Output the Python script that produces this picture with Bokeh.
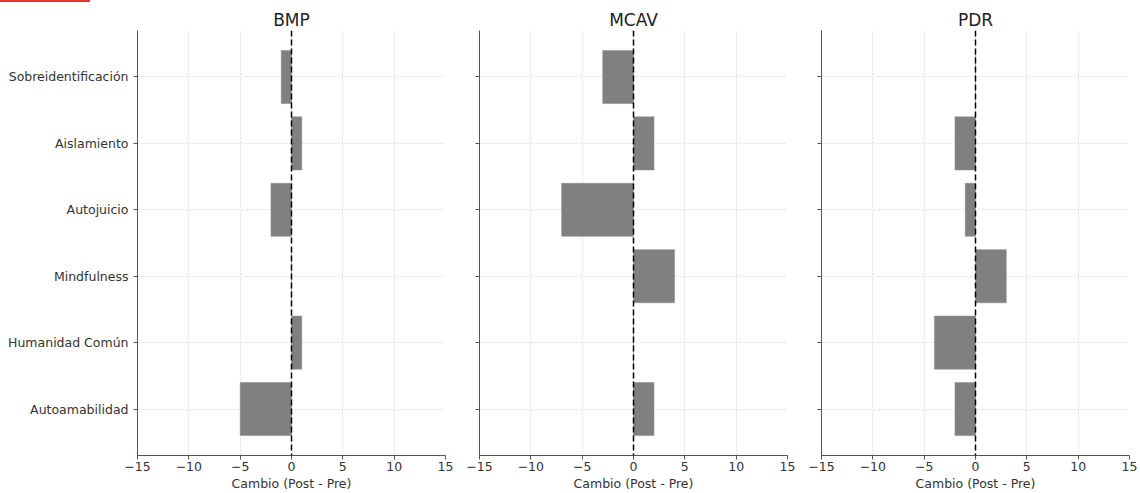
import numpy as np
from bokeh.plotting import figure
from bokeh.layouts import row, column
from bokeh.models import ColumnDataSource, Span, FixedTicker, Range1d, Div
from bokeh.embed import file_html
from bokeh.resources import INLINE

categories = ["Autoamabilidad", "Humanidad Común", "Mindfulness",
              "Autojuicio", "Aislamiento", "Sobreidentificación"]
groups = ["BMP", "MCAV", "PDR"]
bmp = [-5, 1, 0, -2, 1, -1]
mcav = [2, 0, 4, -7, 2, -3]
pdr = [-2, -4, 3, -1, -2, 0]
series = {"BMP": bmp, "MCAV": mcav, "PDR": pdr}
x_ticks = [-15, -10, -5, 0, 5, 10, 15]

FONT = "DejaVu Sans"
TXT = "#333333"
ypos = list(range(len(categories)))

figs = []
for i, g in enumerate(groups):
    left = 137 if i == 0 else 24
    w = left + 308 + 10
    p = figure(width=w, height=491, output_backend="svg", toolbar_location=None,
               x_range=Range1d(-15, 15), y_range=Range1d(-0.7, 5.7),
               min_border_left=left, min_border_right=10,
               min_border_top=28, min_border_bottom=34)
    src = ColumnDataSource(dict(y=ypos, v=series[g], z=[0] * len(ypos)))
    p.hbar(y="y", left="z", right="v", height=0.8, source=src,
           fill_color="#808080", line_color="#8a8a8a", line_width=0.5)
    p.add_layout(Span(location=0, dimension="height", line_color="black",
                      line_dash="6 3", line_width=1.5))
    p.title.text = g
    p.title.align = "center"
    p.title.text_font = FONT
    p.title.text_font_size = "17px"
    p.title.text_font_style = "normal"
    p.title.text_color = "#222222"
    p.title.standoff = 2
    p.outline_line_color = None

    p.xaxis.ticker = FixedTicker(ticks=x_ticks)
    p.xaxis.major_label_overrides = {t: (str(t).replace("-", "\u2212")) for t in x_ticks}
    p.xaxis.axis_label = "Cambio (Post - Pre)"
    p.yaxis.ticker = FixedTicker(ticks=ypos)
    if i == 0:
        p.yaxis.major_label_overrides = {k: c for k, c in zip(ypos, categories)}
    else:
        p.yaxis.major_label_overrides = {k: "" for k in ypos}
    for ax in (p.xaxis[0], p.yaxis[0]):
        ax.minor_tick_line_color = None
        ax.major_tick_in = 0
        ax.major_tick_out = 4
        ax.axis_line_color = "#555555"
        ax.major_tick_line_color = "#555555"
        ax.major_label_text_font = FONT
        ax.major_label_text_color = TXT
        ax.axis_label_text_font = FONT
        ax.axis_label_text_color = TXT
        ax.axis_label_text_font_style = "normal"
    p.xaxis.major_label_text_font_size = "12.5px"
    p.yaxis.major_label_text_font_size = "12.5px" if i == 0 else "0px"
    p.xaxis.axis_label_text_font_size = "12.5px"
    p.xaxis.major_label_standoff = 2
    p.xaxis.axis_label_standoff = 2
    for gr in (p.xgrid[0], p.ygrid[0]):
        gr.grid_line_color = "#d4d4d4"
        gr.grid_line_dash = "2 2"
        gr.grid_line_width = 0.8
    figs.append(p)

marker = Div(text="", width=90, height=2, margin=(0, 0, 0, 0),
             styles={"background-color": "#ee3333"})
layout = column(marker, row(*figs))
open("out.html", "w").write(file_html(layout, INLINE))
